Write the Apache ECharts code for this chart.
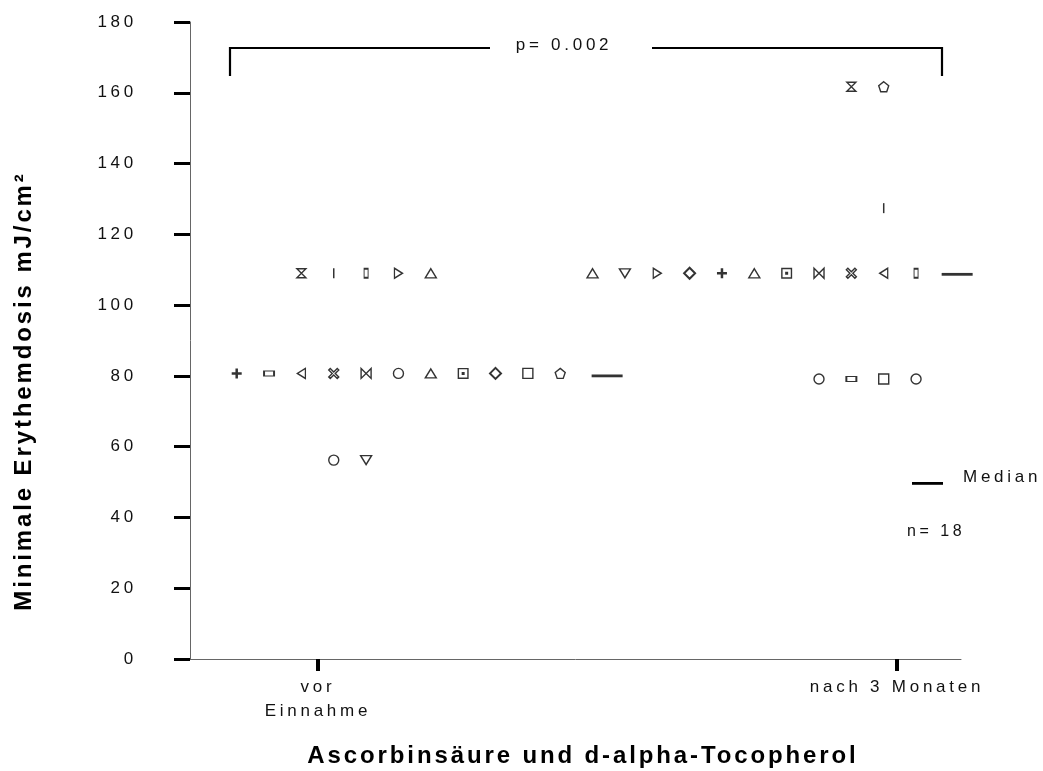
<!DOCTYPE html>
<html>
<head>
<meta charset="utf-8">
<script src="https://cdn.jsdelivr.net/npm/echarts@6/dist/echarts.min.js"></script>
<style>
  html, body { margin: 0; padding: 0; background: #fff; }
  #chart { width: 1043px; height: 771px; }
</style>
</head>
<body>
<div id="chart"></div>
<script>
// ---------------- data ----------------
const groupLabels = ['vor\nEinnahme', 'nach 3 Monaten'];
const groupTickSlot = [2.51, 20.41];          // where each group label sits (slot units)

// vor Einnahme: slot (horizontal position in the row), MED value, marker
const vorSlot   = [2, 3, 4, 5, 6,   0, 1, 2, 3, 4, 5, 6, 7, 8, 9, 10,   3, 4];
const vorMED    = [109, 109, 109, 109, 109,
                   80.7, 80.7, 80.7, 80.7, 80.7, 80.7, 80.7, 80.7, 80.7, 80.7, 80.7,
                   56.2, 56.2];
const vorSymbol = ['hourglass', 'bar', 'tallRect', 'triRight', 'triUp',
                   'plus', 'flatRect', 'triLeft', 'cross', 'bowtie', 'circle', 'triUp', 'boxDot', 'diamond', 'square', 'pentagon',
                   'circle', 'triDown'];

// nach 3 Monaten
const nachSlot   = [11, 12, 13, 14, 15, 16, 17, 18, 19, 20, 21,   19, 20,   20,   18, 19, 20, 21];
const nachMED    = [109, 109, 109, 109, 109, 109, 109, 109, 109, 109, 109,
                    161.7, 161.7,
                    127.4,
                    79.1, 79.1, 79.1, 79.1];
const nachSymbol = ['triUp', 'triDown', 'triRight', 'diamond', 'plus', 'triUp', 'boxDot', 'bowtie', 'cross', 'triLeft', 'tallRect',
                    'hourglass', 'pentagon',
                    'bar',
                    'circle', 'flatRect', 'square', 'circle'];

const medianMED  = [80, 108.7];
const medianSlot = [11.45, 22.27];

const pText = 'p= 0.002';
const nText = 'n= 18';
const medianLabel = 'Median';
const xTitle = 'Ascorbinsäure und d-alpha-Tocopherol';
const yTitle = 'Minimale Erythemdosis mJ/cm²';

// ---------------- letter spacing (reference text is widely spaced) ----------------
(function () {
  const proto = CanvasRenderingContext2D.prototype;
  function sp(font) {
    const m = /(\d+(?:\.\d+)?)px/.exec(font || '');
    const px = m ? parseFloat(m[1]) : 12;
    const bold = /bold|\b[6-9]00\b/.test(font || '');
    return (bold ? px * 0.12 : px * 0.22).toFixed(2) + 'px';
  }
  const f = proto.fillText, s = proto.strokeText, me = proto.measureText;
  proto.fillText = function (t, x, y, w) { try { this.letterSpacing = sp(this.font); } catch (e) {} return w === undefined ? f.call(this, t, x, y) : f.call(this, t, x, y, w); };
  proto.strokeText = function (t, x, y, w) { try { this.letterSpacing = sp(this.font); } catch (e) {} return w === undefined ? s.call(this, t, x, y) : s.call(this, t, x, y, w); };
  proto.measureText = function (t) { try { this.letterSpacing = sp(this.font); } catch (e) {} return me.call(this, t); };
})();

// ---------------- markers ----------------
const SYM = {
  hourglass: { symbol: 'path://M0,0L10,0L0,10L10,10Z', size: [9, 9] },
  bar:       { symbol: 'rect', size: [1.5, 10], fill: '#000', bw: 0 },
  tallRect:  { symbol: 'rect', size: [4, 9] },
  triRight:  { symbol: 'path://M0,0L10,5L0,10Z', size: [8, 10] },
  triLeft:   { symbol: 'path://M10,0L0,5L10,10Z', size: [8, 10] },
  triUp:     { symbol: 'path://M5,0L10,10L0,10Z', size: [11, 9] },
  triDown:   { symbol: 'path://M0,0L10,0L5,10Z', size: [11, 9] },
  plus:      { symbol: 'path://M3.75,0H6.25V3.75H10V6.25H6.25V10H3.75V6.25H0V3.75H3.75Z', size: [10, 10], fill: '#000', bw: 0 },
  flatRect:  { symbol: 'rect', size: [10, 5] },
  cross:     { symbol: 'path://M0,1.5L1.5,0L5,3.5L8.5,0L10,1.5L6.5,5L10,8.5L8.5,10L5,6.5L1.5,10L0,8.5L3.5,5Z', size: [10, 10] },
  bowtie:    { symbol: 'path://M0,0L10,10L10,0L0,10Z', size: [10, 10] },
  circle:    { symbol: 'circle', size: [10, 10] },
  boxDot:    { symbol: 'path://M0,0H11V11H0ZM1.4,1.4V9.6H9.6V1.4ZM4,4H7V7H4Z', size: [11, 11], fill: '#000', bw: 0 },
  diamond:   { symbol: 'diamond', size: [11, 11], bw: 2 },
  square:    { symbol: 'rect', size: [10, 10] },
  pentagon:  { symbol: 'path://M5,0L10,4L8,10L2,10L0,4Z', size: [10, 10] }
};

function points(slots, values, symbols) {
  return slots.map((s, i) => {
    const d = SYM[symbols[i]];
    return {
      value: [s, values[i]],
      symbol: d.symbol,
      symbolSize: d.size,
      itemStyle: {
        color: d.fill || '#fff',
        borderColor: '#000',
        borderWidth: d.bw === undefined ? 1.4 : d.bw
      }
    };
  });
}

const textColor = '#111';
const FONT = "'Liberation Sans', Arial, sans-serif";

const chart = echarts.init(document.getElementById('chart'), null, { renderer: 'canvas' });

chart.setOption({
  animation: false,
  backgroundColor: '#fff',
  grid: { left: 190, right: 82, top: 22, bottom: 112 },
  xAxis: {
    type: 'value',
    min: -1.4436,
    max: 22.389,
    splitLine: { show: false },
    axisLine: { show: true, onZero: false, lineStyle: { color: '#666', width: 1 } },
    axisTick: { show: true, customValues: groupTickSlot, length: 12, lineStyle: { color: '#000', width: 4 } },
    axisLabel: {
      show: true,
      customValues: groupTickSlot,
      margin: 16,
      color: textColor,
      fontFamily: FONT,
      fontSize: 17,
      lineHeight: 24,
      align: 'center',
      formatter: function (v) {
        let best = 0;
        groupTickSlot.forEach((t, i) => { if (Math.abs(t - v) < Math.abs(groupTickSlot[best] - v)) best = i; });
        return groupLabels[best];
      }
    }
  },
  yAxis: {
    type: 'value',
    min: 0,
    max: 180,
    interval: 20,
    splitLine: { show: false },
    axisLine: { show: true, onZero: false, lineStyle: { color: '#666', width: 1 } },
    axisTick: { show: true, length: 16, lineStyle: { color: '#000', width: 3 } },
    axisLabel: { margin: 53, color: textColor, fontFamily: FONT, fontSize: 17 }
  },
  series: [
    {
      name: 'vor Einnahme',
      type: 'scatter',
      silent: true,
      clip: false,
      data: points(vorSlot, vorMED, vorSymbol)
    },
    {
      name: 'nach 3 Monaten',
      type: 'scatter',
      silent: true,
      clip: false,
      data: points(nachSlot, nachMED, nachSymbol)
    },
    {
      name: 'Median',
      type: 'scatter',
      silent: true,
      clip: false,
      symbol: 'rect',
      symbolSize: [31, 2.8],
      itemStyle: { color: '#000' },
      data: medianSlot.map((s, i) => [s, medianMED[i]])
    }
  ],
  graphic: [
    // significance bracket
    { type: 'polyline', silent: true, shape: { points: [[230, 76], [230, 48], [490, 48]] }, style: { stroke: '#000', lineWidth: 2.2, fill: null } },
    { type: 'polyline', silent: true, shape: { points: [[652, 48], [942, 48], [942, 76]] }, style: { stroke: '#000', lineWidth: 2.2, fill: null } },
    { type: 'text', silent: true, x: 564, y: 45, style: { text: pText, fill: textColor, font: "17px " + FONT, textAlign: 'center', textVerticalAlign: 'middle' } },
    // legend
    { type: 'rect', silent: true, shape: { x: 912, y: 482, width: 31, height: 2.8 }, style: { fill: '#000' } },
    { type: 'text', silent: true, x: 963, y: 477.5, style: { text: medianLabel, fill: textColor, font: "17px " + FONT, textAlign: 'left', textVerticalAlign: 'middle' } },
    { type: 'text', silent: true, x: 907, y: 532, style: { text: nText, fill: textColor, font: "16px " + FONT, textAlign: 'left', textVerticalAlign: 'middle' } },
    // axis titles
    { type: 'text', silent: true, x: 583, y: 756, style: { text: xTitle, fill: '#000', font: "bold 24px " + FONT, textAlign: 'center', textVerticalAlign: 'middle' } },
    { type: 'text', silent: true, x: 24, y: 391, rotation: Math.PI / 2, style: { text: yTitle, fill: '#000', font: "bold 24px " + FONT, textAlign: 'center', textVerticalAlign: 'middle' } }
  ]
});
</script>
</body>
</html>
